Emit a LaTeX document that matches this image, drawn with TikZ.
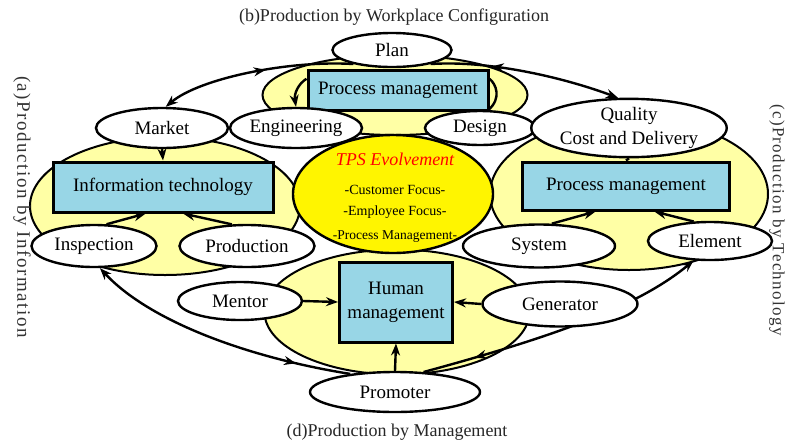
\documentclass[tikz,border=0pt]{standalone}
\usepackage{fontspec}
\setmainfont{Liberation Serif}
\newfontfamily\sidefont[LetterSpace=8]{Liberation Serif}
\usetikzlibrary{shapes,arrows.meta,positioning,decorations.markings}
\pgfdeclarelayer{blobs}
\pgfdeclarelayer{links}
\pgfsetlayers{blobs,links,main}
\definecolor{paleyellow}{RGB}{255,255,165}
\definecolor{tpsyellow}{RGB}{255,245,0}
\definecolor{boxblue}{RGB}{152,214,230}

\begin{document}
\begin{tikzpicture}[x=1pt,y=-1pt,
  oval/.style={ellipse,draw,line width=2.4pt,fill=white,inner sep=0pt,align=center,font=\fontsize{19}{24}\selectfont},
  pbox/.style={rectangle,draw,line width=3pt,fill=boxblue,inner sep=0pt,align=center,font=\fontsize{19}{24}\selectfont},
  blob/.style={ellipse,draw,line width=2pt,fill=paleyellow,inner sep=0pt},
  link/.style={line width=2.4pt,>={Stealth[length=12pt,width=9pt]}},
  midarrow/.style={postaction={decorate,decoration={markings,mark=at position #1 with {\arrow{Stealth[length=12pt,width=9pt]}}}}},
  title/.style={font=\fontsize{18}{20}\selectfont,text=black!85},
  sidetitle/.style={font=\sidefont\fontsize{19}{21}\selectfont,text=black!80,rotate=-90,inner sep=0pt}
]
\useasboundingbox (0,0) rectangle (787,445);

% yellow areas
\begin{pgfonlayer}{blobs}
\node[blob,minimum width=265pt,minimum height=80pt] (blobTop) at (395,95) {};
\node[blob,minimum width=270pt,minimum height=138pt] (blobLeft) at (165,206) {};
\node[blob,minimum width=278pt,minimum height=152pt] (blobRight) at (629,194) {};
\node[blob,minimum width=265pt,minimum height=125pt] (blobBottom) at (397,312) {};
\end{pgfonlayer}

% centre
\node[ellipse,draw,line width=2.4pt,fill=tpsyellow,minimum width=200pt,minimum height=118pt] (tps) at (393,194) {};
\node[font=\fontsize{18}{20}\selectfont\itshape,text=red] (tpsHead) at (395,159) {TPS Evolvement};
\node[font=\fontsize{14}{16}\selectfont] (tpsCust) at (395,190) {-Customer Focus-};
\node[font=\fontsize{14}{16}\selectfont] (tpsEmp) at (395,212) {-Employee Focus-};
\node[font=\fontsize{13.5}{16}\selectfont] (tpsProc) at (395,237) {-Process Management-};

% (b) workplace
\node[oval,minimum width=119pt,minimum height=34pt] (Plan) at (392,50) {Plan};
\node[pbox,minimum width=180pt,minimum height=40pt] (PMtop) at (398,90) {Process management};
\node[oval,minimum width=132pt,minimum height=40pt] (Engineering) at (296,128) {Engineering};
\node[oval,minimum width=110pt,minimum height=34pt] (Design) at (480,128) {Design};

% (a) information
\node[oval,minimum width=132pt,minimum height=40pt] (Market) at (162,128) {Market};
\node[pbox,minimum width=220pt,minimum height=50pt] (ITbox) at (163,187) {Information technology};
\node[oval,minimum width=125pt,minimum height=42pt] (Inspection) at (94,246) {Inspection};
\node[oval,minimum width=135pt,minimum height=42pt] (Production) at (247,246) {Production};

% (c) technology
\node[oval,minimum width=182pt,minimum height=57pt] (Quality) at (629,128) {Quality\\Cost and Delivery};
\node[pbox,minimum width=207pt,minimum height=48pt] (RPbox) at (626,186) {Process management};
\node[oval,minimum width=152pt,minimum height=43pt] (System) at (539,246) {System};
\node[oval,minimum width=124pt,minimum height=38pt] (Element) at (710,241) {Element};

% (d) management
\node[pbox,minimum width=113pt,minimum height=80pt] (HMbox) at (396,302) {Human\\management};
\node[oval,minimum width=124pt,minimum height=38pt] (Mentor) at (240,301) {Mentor};
\node[oval,minimum width=155pt,minimum height=45pt] (Generator) at (560,304) {Generator};
\node[oval,minimum width=170pt,minimum height=40pt] (Promoter) at (395,392) {Promoter};

% titles
\node[title] (titleB) at (394,17) {(b)Production by Workplace Configuration};
\node[title] (titleD) at (397,432) {(d)Production by Management};
\node[sidetitle] (titleA) at (22,207) {(a)Production by Information};
\node[sidetitle,font=\sidefont\fontsize{17}{19}\selectfont] (titleC) at (777,220) {(c)Production by Technology};

\begin{pgfonlayer}{links}
\draw[link,<-,midarrow=0.55] (Market.80) .. controls (200,78) and (290,60) .. (Plan.200);
\draw[link,<-,midarrow=0.68] (Quality.110) .. controls (565,78) and (490,60) .. (Plan.340);
\draw[link,->] (PMtop.173) .. controls (298,84) and (294,94) .. (Engineering.north);
\draw[link] (PMtop.7) .. controls (496,84) and (502,98) .. (Design.65);

\draw[link,->] (Market.south) -- (ITbox.north);
\draw[link,->] (Inspection.60) -- (ITbox.237);
\draw[link,->] (Production.125) -- (ITbox.307);
\draw[link,<-,midarrow=0.8] (Inspection.285) .. controls (150,322) and (250,358) .. (Promoter.158);

\draw[link] (Quality.south) -- (RPbox.north);
\draw[link,->] (System.60) -- (RPbox.220);
\draw[link,->] (Element.130) -- (RPbox.318);
\draw[link,<-,midarrow=0.82] (Element.230) .. controls (640,305) and (560,335) .. (Promoter.35);

\draw[link,->] (Mentor.east) -- (HMbox.west);
\draw[link,->] (Generator.west) -- (HMbox.east);
\draw[link,->] (Promoter.north) -- (HMbox.south);
\end{pgfonlayer}
\end{tikzpicture}
\end{document}
